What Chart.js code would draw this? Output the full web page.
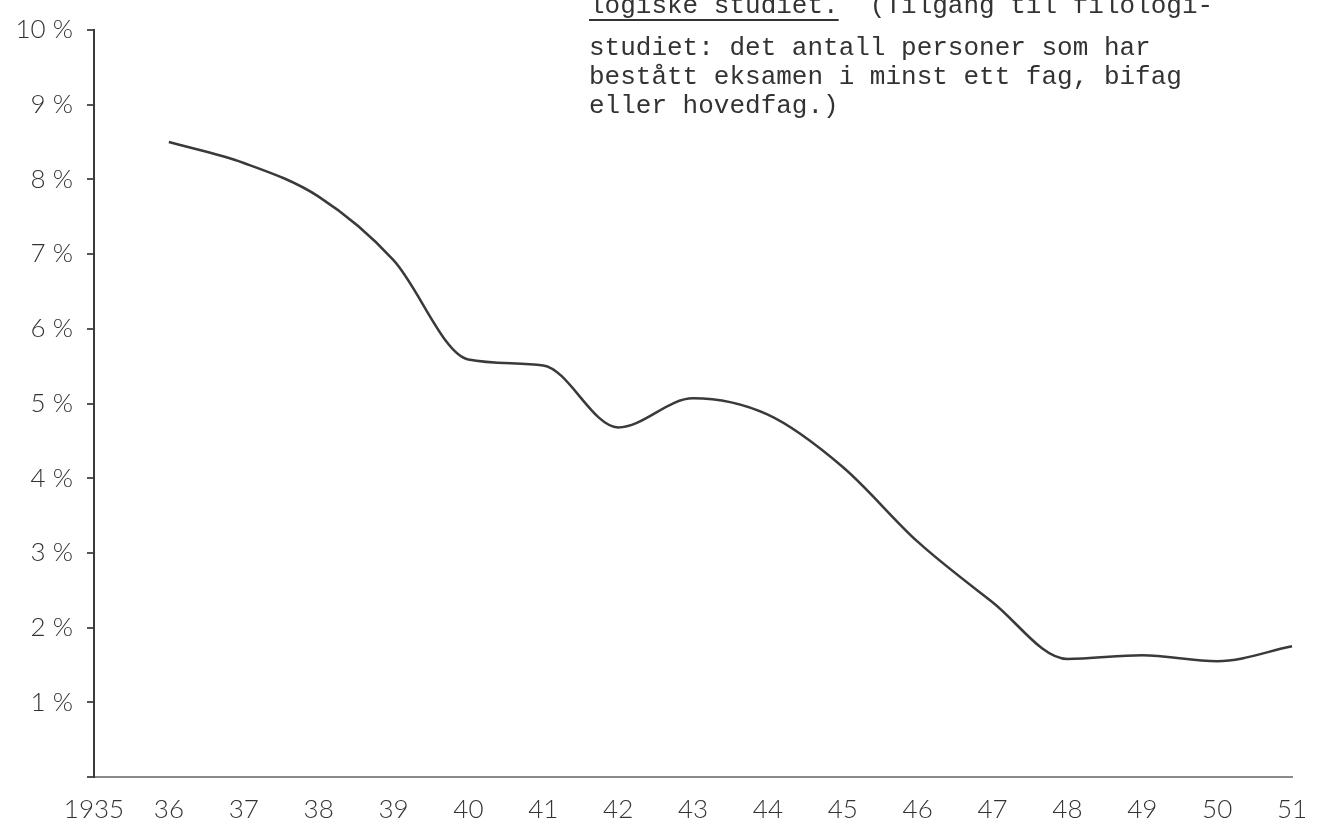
<!DOCTYPE html>
<html>
<head>
<meta charset="utf-8">
<script src="https://cdn.jsdelivr.net/npm/chart.js@4"></script>
<style>
  body { margin: 0; background: #fff; }
  #wrap { position: relative; width: 1325px; height: 825px; overflow: hidden; }
  #note {
    position: absolute; left: 589px; top: -8px;
    font-family: "Liberation Mono", "DejaVu Sans Mono", monospace;
    font-size: 26px; line-height: 29px; color: #333; white-space: pre;
  }
  #note .first { margin-bottom: 13px; }
  #note u { text-decoration-thickness: 2px; text-underline-offset: 6px; }
</style>
</head>
<body>
<div id="wrap">
  <canvas id="chart" width="1325" height="825"></canvas>
  <div id="note"><div class="first"><u>logiske studiet.</u>  (Tilgang til filologi-</div><div>studiet: det antall personer som har</div><div>bestått eksamen i minst ett fag, bifag</div><div>eller hovedfag.)</div></div>
</div>
<script>
// years on the x axis, written as on the sheet
const yearLabels = ["1935", "36", "37", "38", "39", "40", "41", "42", "43",
  "44", "45", "46", "47", "48", "49", "50", "51"];
// share (%), nothing drawn for 1935
const shareValues = [null, 8.5, 8.22, 7.77, 6.92, 5.59, 5.51, 4.68, 5.07,
  4.85, 4.15, 3.15, 2.34, 1.58, 1.63, 1.55, 1.75];
const yTicks = [0, 1, 2, 3, 4, 5, 6, 7, 8, 9, 10];

const handFont = { family: "Lato, 'DejaVu Sans', sans-serif", size: 26, weight: "300" };

new Chart(document.getElementById("chart"), {
  type: "line",
  data: {
    labels: yearLabels,
    datasets: [{
      data: shareValues,
      borderColor: "#3a3a3a",
      borderWidth: 2.5,
      pointRadius: 0,
      tension: 0.4,
      cubicInterpolationMode: "monotone",
      fill: false
    }]
  },
  options: {
    responsive: false,
    animation: false,
    layout: { padding: { top: 30, right: 33, left: 0, bottom: 0 } },
    plugins: { legend: { display: false }, tooltip: { enabled: false } },
    scales: {
      x: {
        offset: false,
        grid: { display: false },
        border: { display: true, color: "#8a8a8a", width: 2, dash: [14, 5] },
        ticks: { color: "#333", font: handFont, padding: 9, maxRotation: 0, autoSkip: false },
        afterFit: s => { s.height = 48; }
      },
      y: {
        min: 0,
        max: 10,
        afterBuildTicks: s => { s.ticks = yTicks.map(v => ({ value: v })); },
        grid: { drawOnChartArea: false, drawTicks: true, tickLength: 7, color: "#555", lineWidth: 2 },
        border: { display: true, color: "#3a3a3a", width: 2 },
        ticks: {
          color: "#333",
          font: handFont,
          padding: 14,
          callback: v => (v === 0 ? "" : v + " %")
        },
        afterFit: s => { s.width = 94; }
      }
    }
  }
});
</script>
</body>
</html>
